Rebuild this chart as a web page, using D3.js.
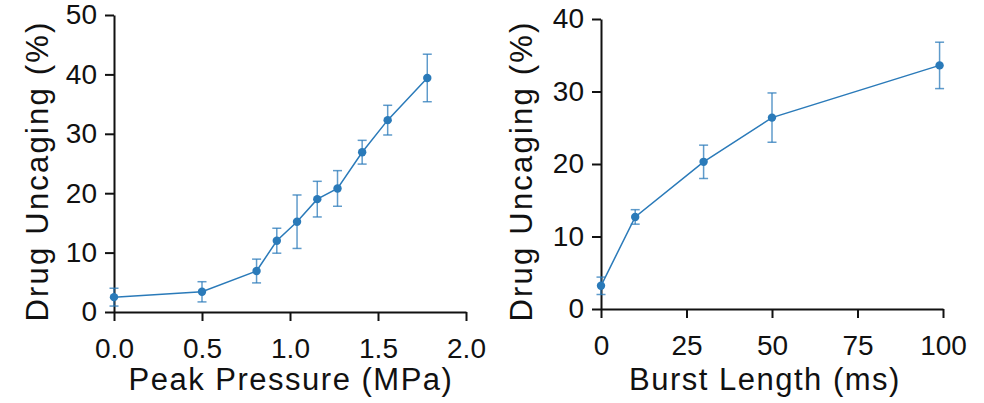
<!DOCTYPE html>
<html>
<head>
<meta charset="utf-8">
<script src="https://cdn.jsdelivr.net/npm/d3@7"></script>
<style>
  body { margin: 0; background: #fff; }
  svg { display: block; font-family: "Liberation Sans", Arial, sans-serif; }
  .tick text { font-size: 28px; fill: #111; }
  .axis path, .axis line { stroke: #111; stroke-width: 2px; }
  .title { font-size: 31px; fill: #111; letter-spacing: 1.5px; }
  .ytitle { letter-spacing: 2.2px; }
</style>
</head>
<body>
<div id="chart"></div>
<script>
// left panel: pressure sweep
var pressure = [0.0, 0.5, 0.81, 0.925, 1.04, 1.155, 1.27, 1.41, 1.555, 1.78];
var pressureUncaging = [2.5, 3.4, 6.9, 12.0, 15.2, 19.0, 20.8, 26.9, 32.3, 39.4];
var pressureErr = [1.5, 1.7, 2.0, 2.1, 4.5, 3.0, 3.0, 2.0, 2.5, 4.0];
var pressureTicks = [0, 0.5, 1.0, 1.5, 2.0];

// right panel: burst length sweep
var burst = [0, 10, 30, 50, 99];
var burstUncaging = [3.2, 12.7, 20.3, 26.4, 33.6];
var burstErr = [1.2, 1.0, 2.3, 3.4, 3.2];
var burstTicks = [0, 25, 50, 75, 100];

var blue = "#2a7ab9";

var svg = d3.select("#chart")
  .append("svg")
    .attr("width", 984)
    .attr("height", 403);

function panel(opts) {
  var x = d3.scaleLinear().domain(opts.xDomain).range(opts.xRange);
  var y = d3.scaleLinear().domain(opts.yDomain).range(opts.yRange);

  svg.append("g")
    .attr("class", "axis")
    .attr("transform", "translate(0," + opts.yRange[0] + ")")
    .call(d3.axisBottom(x).tickValues(opts.xTicks).tickFormat(opts.xFormat)
      .tickSize(9).tickSizeOuter(0).tickPadding(17));

  svg.append("g")
    .attr("class", "axis")
    .attr("transform", "translate(" + opts.xRange[0] + ",0)")
    .call(d3.axisLeft(y).ticks(5).tickSize(9).tickSizeOuter(0).tickPadding(8));

  svg.selectAll(".axis").attr("font-size", null).attr("font-family", null);

  var data = opts.xs.map(function(d, i) {
    return {x: d, y: opts.ys[i], e: opts.errs[i]};
  });

  var g = svg.append("g");

  // error bars
  var eb = g.selectAll(".eb").data(data).enter().append("g")
    .attr("stroke", blue).attr("stroke-opacity", 0.75).attr("stroke-width", 1.5);
  eb.append("line")
    .attr("x1", function(d) { return x(d.x); })
    .attr("x2", function(d) { return x(d.x); })
    .attr("y1", function(d) { return y(d.y - d.e); })
    .attr("y2", function(d) { return y(d.y + d.e); });
  eb.append("line")
    .attr("x1", function(d) { return x(d.x) - 4.5; })
    .attr("x2", function(d) { return x(d.x) + 4.5; })
    .attr("y1", function(d) { return y(d.y + d.e); })
    .attr("y2", function(d) { return y(d.y + d.e); });
  eb.append("line")
    .attr("x1", function(d) { return x(d.x) - 4.5; })
    .attr("x2", function(d) { return x(d.x) + 4.5; })
    .attr("y1", function(d) { return y(d.y - d.e); })
    .attr("y2", function(d) { return y(d.y - d.e); });

  g.append("path")
    .datum(data)
    .attr("fill", "none")
    .attr("stroke", blue)
    .attr("stroke-width", 1.5)
    .attr("d", d3.line().x(function(d) { return x(d.x); }).y(function(d) { return y(d.y); }));

  g.selectAll("circle").data(data).enter().append("circle")
    .attr("cx", function(d) { return x(d.x); })
    .attr("cy", function(d) { return y(d.y); })
    .attr("r", 4.2)
    .attr("fill", blue);

  svg.append("text")
    .attr("class", "title")
    .attr("text-anchor", "middle")
    .attr("x", opts.xLabelX)
    .attr("y", 390)
    .text(opts.xLabel);

  svg.append("text")
    .attr("class", "title ytitle")
    .attr("text-anchor", "middle")
    .attr("transform", "translate(" + opts.yLabelX + "," + 171 + ") rotate(-90)")
    .text("Drug Uncaging (%)");
}

panel({
  xs: pressure, ys: pressureUncaging, errs: pressureErr,
  xDomain: [0, 2], xRange: [114, 466],
  yDomain: [0, 50], yRange: [312, 15],
  xTicks: pressureTicks, xFormat: d3.format(".1f"),
  xLabel: "Peak Pressure (MPa)", xLabelX: 291, yLabelX: 48
});

panel({
  xs: burst, ys: burstUncaging, errs: burstErr,
  xDomain: [0, 100], xRange: [601, 943],
  yDomain: [0, 40], yRange: [309, 19],
  xTicks: burstTicks, xFormat: d3.format("d"),
  xLabel: "Burst Length (ms)", xLabelX: 765, yLabelX: 532
});
</script>
</body>
</html>
